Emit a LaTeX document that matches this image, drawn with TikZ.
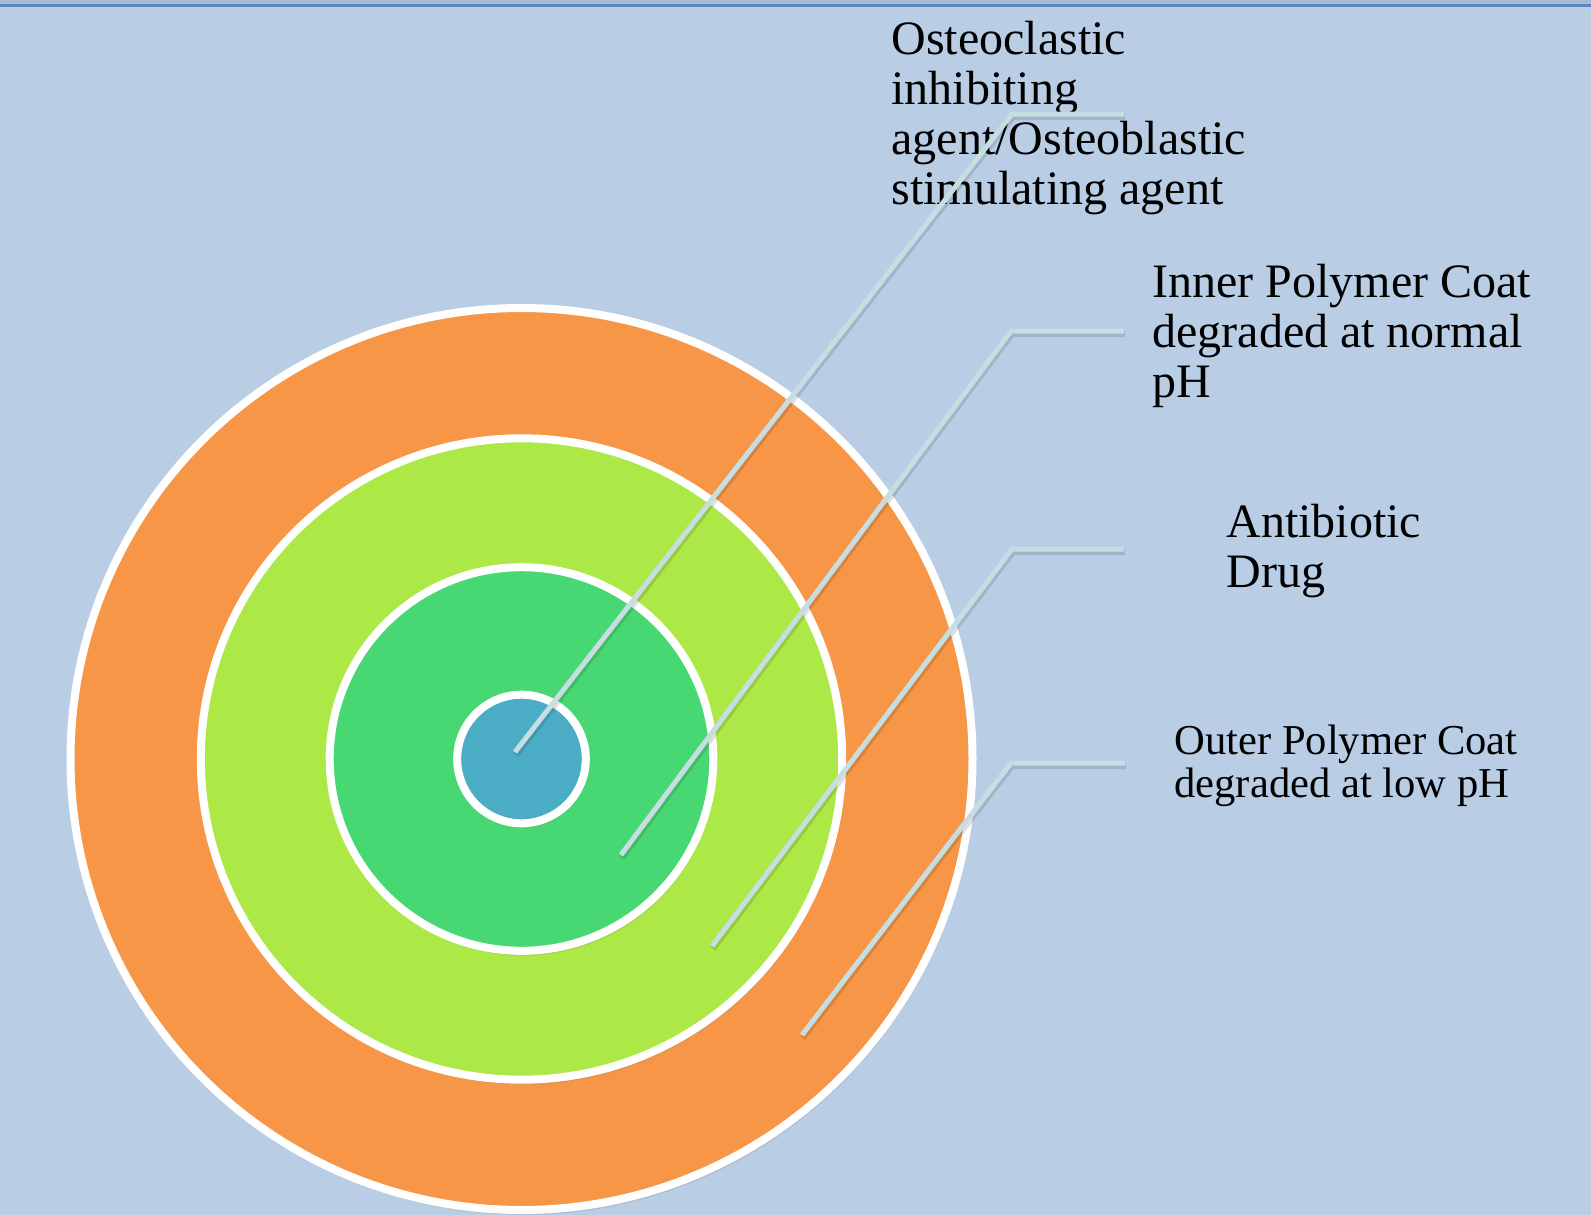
\documentclass[tikz,border=0pt]{standalone}
\usepackage{fontspec}
\setmainfont{Liberation Serif}
\usetikzlibrary{shadows}
\definecolor{slide}{HTML}{B9CDE5}
\definecolor{slidetop}{HTML}{A6BBD7}
\definecolor{rule}{HTML}{5A86BF}
\definecolor{outercol}{HTML}{F79646}
\definecolor{innercol}{HTML}{ACE846}
\definecolor{drugcol}{HTML}{48D873}
\definecolor{corecol}{HTML}{4BACC6}
\definecolor{leadcol}{HTML}{C6DEE2}

\begin{document}
\begin{tikzpicture}[x=0.5pt,y=-0.5pt,
    layer/.style={circle,draw=white,line width=4pt,inner sep=0pt,
        drop shadow={opacity=.2,shadow xshift=1pt,shadow yshift=-2.5pt}},
    leader/.style={draw=leadcol,line width=2.5pt,
        preaction={draw=black,opacity=.12,line width=3pt,
            transform canvas={shift={(0.4pt,-1.6pt)}}}},
    ringtext/.style={anchor=base west,inner sep=0pt,align=left,
        font=\fontsize{24}{25}\selectfont}]
        \useasboundingbox (0,0) rectangle (1591,1215);
        \fill[slide] (0,0) rectangle (1591,1215);
        \fill[slidetop] (0,0) rectangle (1591,4);
        \draw[rule,line width=1.5pt] (0,5.5) -- (1591,5.5);

        \node[layer,fill=outercol,minimum size=451pt] (outercoat) at (521.5,759) {};
        \node[layer,fill=innercol,minimum size=320.7pt] (innercoat) at (521.5,759) {};
        \node[layer,fill=drugcol,minimum size=191.8pt] (drug) at (521.5,759) {};
        \node[layer,fill=corecol,minimum size=64.3pt] (core) at (521.5,759) {};

        \node[ringtext] (coreText) at (891,204) {Osteoclastic\\inhibiting\\agent/Osteoblastic\\stimulating agent};
        \node[ringtext] (innerText) at (1152,397) {Inner Polymer Coat\\degraded at normal\\pH};
        \node[ringtext] (drugText) at (1226,587) {Antibiotic\\Drug};
        \node[ringtext,font=\fontsize{21.3}{21.5}\selectfont] (outerText) at (1174,797) {Outer Polymer Coat\\degraded at low pH};

        \coordinate (corePin) at (515,752);
        \coordinate (innerPin) at (621,855);
        \coordinate (drugPin) at (712,946);
        \coordinate (outerPin) at (802,1035);
        \coordinate (coreBend) at (1012,114);
        \coordinate (innerBend) at (1011,331);
        \coordinate (drugBend) at (1012,549);
        \coordinate (outerBend) at (1011,763);
        \coordinate (coreTip) at (1124,114);
        \coordinate (innerTip) at (1124,331);
        \coordinate (drugTip) at (1124,549);
        \coordinate (outerTip) at (1125,763);

        \draw[leader] (corePin) -- (coreBend) -- (coreTip);
        \draw[leader] (innerPin) -- (innerBend) -- (innerTip);
        \draw[leader] (drugPin) -- (drugBend) -- (drugTip);
        \draw[leader] (outerPin) -- (outerBend) -- (outerTip);
\end{tikzpicture}
\end{document}
